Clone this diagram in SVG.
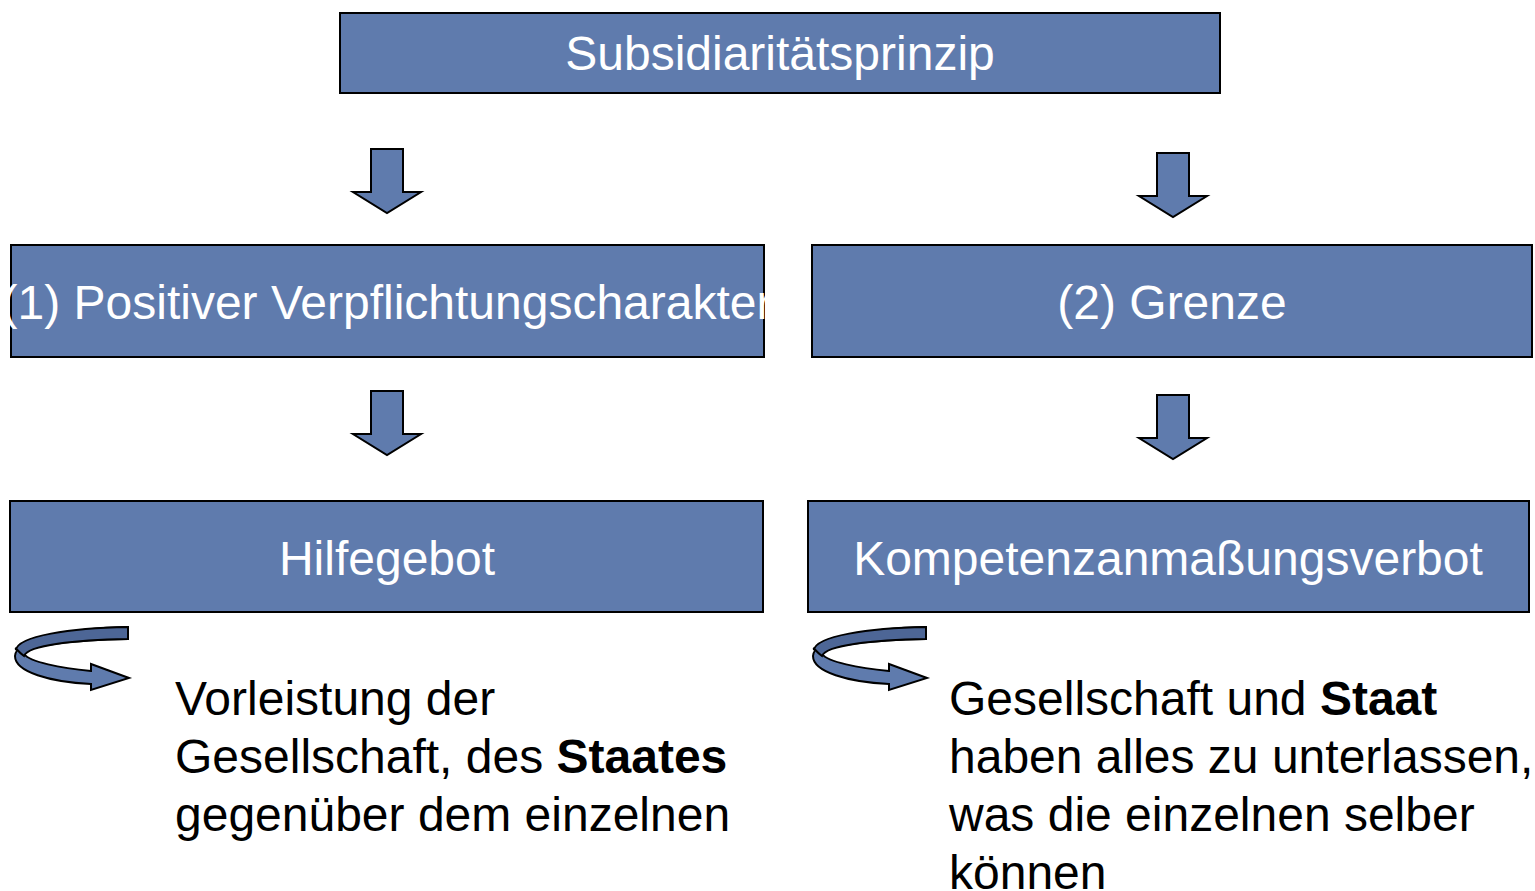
<svg xmlns="http://www.w3.org/2000/svg" width="1535" height="891" viewBox="0 0 1535 891">
<defs>
<style>
.box{fill:#5f7bad;stroke:#000;stroke-width:2}
.lbl{font-family:"Liberation Sans",Arial,sans-serif;font-size:48px;fill:#fff;text-anchor:middle}
.body{font-family:"Liberation Sans",Arial,sans-serif;font-size:48px;fill:#000}
.arr{fill:#5f7bad;stroke:#000;stroke-width:2;stroke-linejoin:miter}
.back{fill:#4d6696;stroke:#000;stroke-width:2}
</style>
<g id="curl">
<path class="arr" d="M128,627 L128,639 C 75,640 28,645 24,654 C 30,662 60,668 91,671 L91,664 L129,678 L91,690 L91,684 C 50,682 15,672 15,656 C 15,640 70,628 128,627 Z"/>
<path class="back" d="M128,627 L128,639 C 75,640 28,645 24,656 C 16,650 15,646 16,650 C 18,636 70,628 128,627 Z"/>
</g>
<path id="down" d="M-16,0 L16,0 L16,43 L34,43 L0,64 L-34,43 L-16,43 Z"/>
</defs>
<g id="top"><rect class="box" x="340" y="13" width="880" height="80"/><text class="lbl" x="780" y="70">Subsidiaritätsprinzip</text></g>
<g id="pos"><rect class="box" x="11" y="245" width="753" height="112"/><text class="lbl" x="387" y="319">(1) Positiver Verpflichtungscharakter</text></g>
<g id="grenze"><rect class="box" x="812" y="245" width="720" height="112"/><text class="lbl" x="1172" y="319">(2) Grenze</text></g>
<g id="hilfe"><rect class="box" x="10" y="501" width="753" height="111"/><text class="lbl" x="387" y="575">Hilfegebot</text></g>
<g id="kompetenz"><rect class="box" x="808" y="501" width="721" height="111"/><text class="lbl" x="1168" y="575">Kompetenzanmaßungsverbot</text></g>
<g id="connectors">
<use href="#down" class="arr" x="387" y="149"/>
<use href="#down" class="arr" x="1173" y="153"/>
<use href="#down" class="arr" x="387" y="391"/>
<use href="#down" class="arr" x="1173" y="395"/>
<use href="#curl"/>
<use href="#curl" x="798"/>
</g>
<g id="text-left"><text class="body" x="175" y="715">Vorleistung der</text><text class="body" x="175" y="773">Gesellschaft, des <tspan font-weight="bold">Staates</tspan></text><text class="body" x="175" y="831">gegenüber dem einzelnen</text></g>
<g id="text-right"><text class="body" x="949" y="715">Gesellschaft und <tspan font-weight="bold">Staat</tspan></text><text class="body" x="949" y="773">haben alles zu unterlassen,</text><text class="body" x="949" y="831">was die einzelnen selber</text><text class="body" x="949" y="889">können</text></g>
</svg>
